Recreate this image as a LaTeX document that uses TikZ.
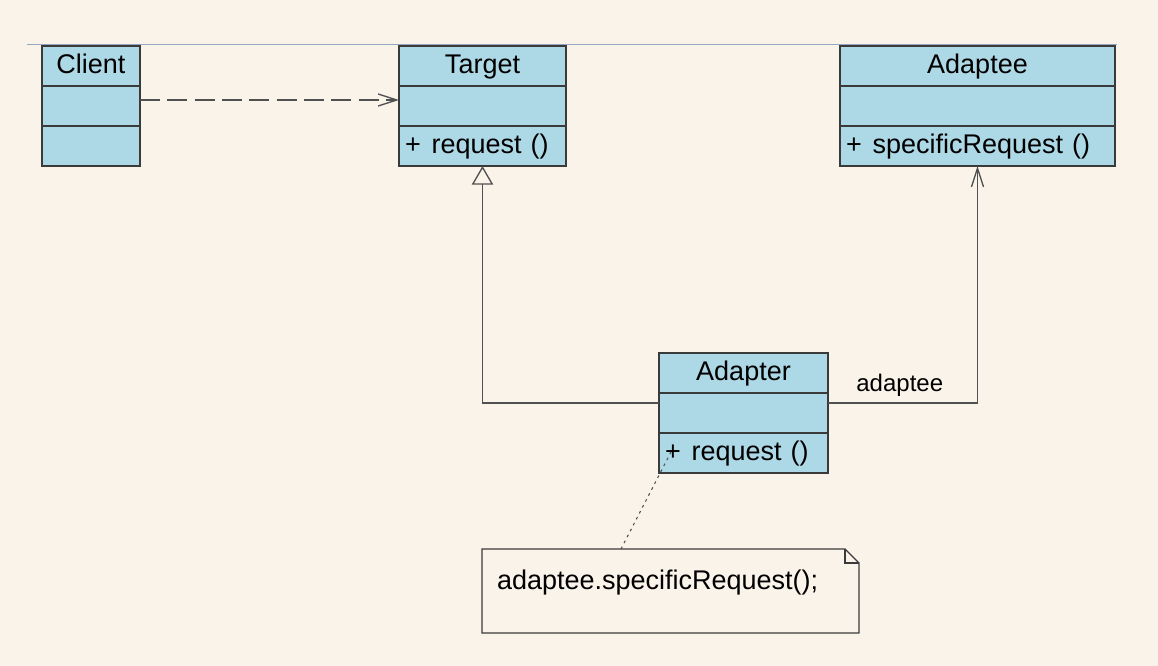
\documentclass[tikz,border=0pt]{standalone}
\usepackage{fontspec}
\setmainfont{Liberation Sans}
\usepackage{tikz}
\usetikzlibrary{arrows.meta,positioning}
\usetikzlibrary{shapes.multipart}

\definecolor{bgc}{HTML}{FAF3EA}
\definecolor{umlblue}{HTML}{ADD8E6}
\definecolor{umlline}{HTML}{3A3A3A}
\definecolor{linkc}{HTML}{505050}
\definecolor{rulec}{HTML}{97A6BF}

\newcommand{\rs}{\rule[-8.5pt]{0pt}{29pt}}
\newcommand{\clsfont}{\fontsize{20.25}{24}\selectfont}

\tikzset{
  cls/.style={rectangle split, rectangle split parts=3, draw=umlline, fill=umlblue,
    line width=1pt, text width=#1, inner xsep=4.5pt, inner ysep=0pt, outer sep=0pt,
    font=\clsfont},
  memo/.style={text width=260.25pt, inner xsep=11.25pt, inner ysep=0pt, outer sep=0pt,
    text height=30.75pt, text depth=32.25pt, align=left, font=\clsfont},
  link/.style={draw=linkc, line width=1pt},
  barb/.style={-{Straight Barb[length=14pt,width=9pt]}},
  gen/.style={link, -{Triangle[open,length=14pt,width=16pt]}},
  dep/.style={link, barb, dash pattern=on 15pt off 5.5pt},
  assoc/.style={link, barb},
  trace/.style={draw=linkc, line width=0.8pt, dash pattern=on 2pt off 3pt},
  role/.style={anchor=base, yshift=8.25pt, inner sep=0pt, font=\fontsize{18}{20}\selectfont}
}

\begin{document}
\begin{tikzpicture}[x=0.75pt,y=-0.75pt]
\fill[bgc] (0,0) rectangle (1158,666);
\draw[rulec, line width=0.75pt] (27,45) -- (1117,45);

% classes
\node[cls=64.5pt, anchor=north west] (client) at (42,46)
  {\centering\rs Client\par\nodepart{two}\rs\nodepart{three}\rs};
\node[cls=116.25pt] (target) [right=194.25pt of client]
  {\centering\rs Target\par\nodepart{two}\rs\nodepart{three}\rs +\hspace{0.4em}request ()};
\node[cls=197.25pt] (adaptee) [right=205.5pt of target]
  {\centering\rs Adaptee\par\nodepart{two}\rs\nodepart{three}\rs +\hspace{0.4em}specificRequest ()};
\node[cls=117.75pt] (adapter) [below right=140.25pt and 69.75pt of target]
  {\centering\rs Adapter\par\nodepart{two}\rs\nodepart{three}\rs +\hspace{0.4em}request ()};

% note
\node[memo] (note) [below=57pt of adapter, xshift=-54.75pt] {adaptee.specificRequest();};
\draw[umlline, line width=1pt] (note.north west) -- ([xshift=-10.5pt]note.north east)
  -- ([yshift=-10.5pt]note.north east) -- (note.south east) -- (note.south west) -- cycle;
\draw[umlline, line width=1pt] ([xshift=-10.5pt]note.north east) |- ([yshift=-10.5pt]note.north east);

% relations
\draw[dep] ([yshift=4.5pt]client.east) -- ([yshift=4.5pt]target.west);
\draw[gen] ([yshift=7.5pt]adapter.west) -| (target.south);
\draw[assoc] ([yshift=7.5pt]adapter.east) -| node[role, pos=0.24] {adaptee} (adaptee.south);
\draw[trace] ([xshift=104.25pt]note.north west) -- ([xshift=9.75pt,yshift=17.25pt]adapter.south west);
\end{tikzpicture}
\end{document}
